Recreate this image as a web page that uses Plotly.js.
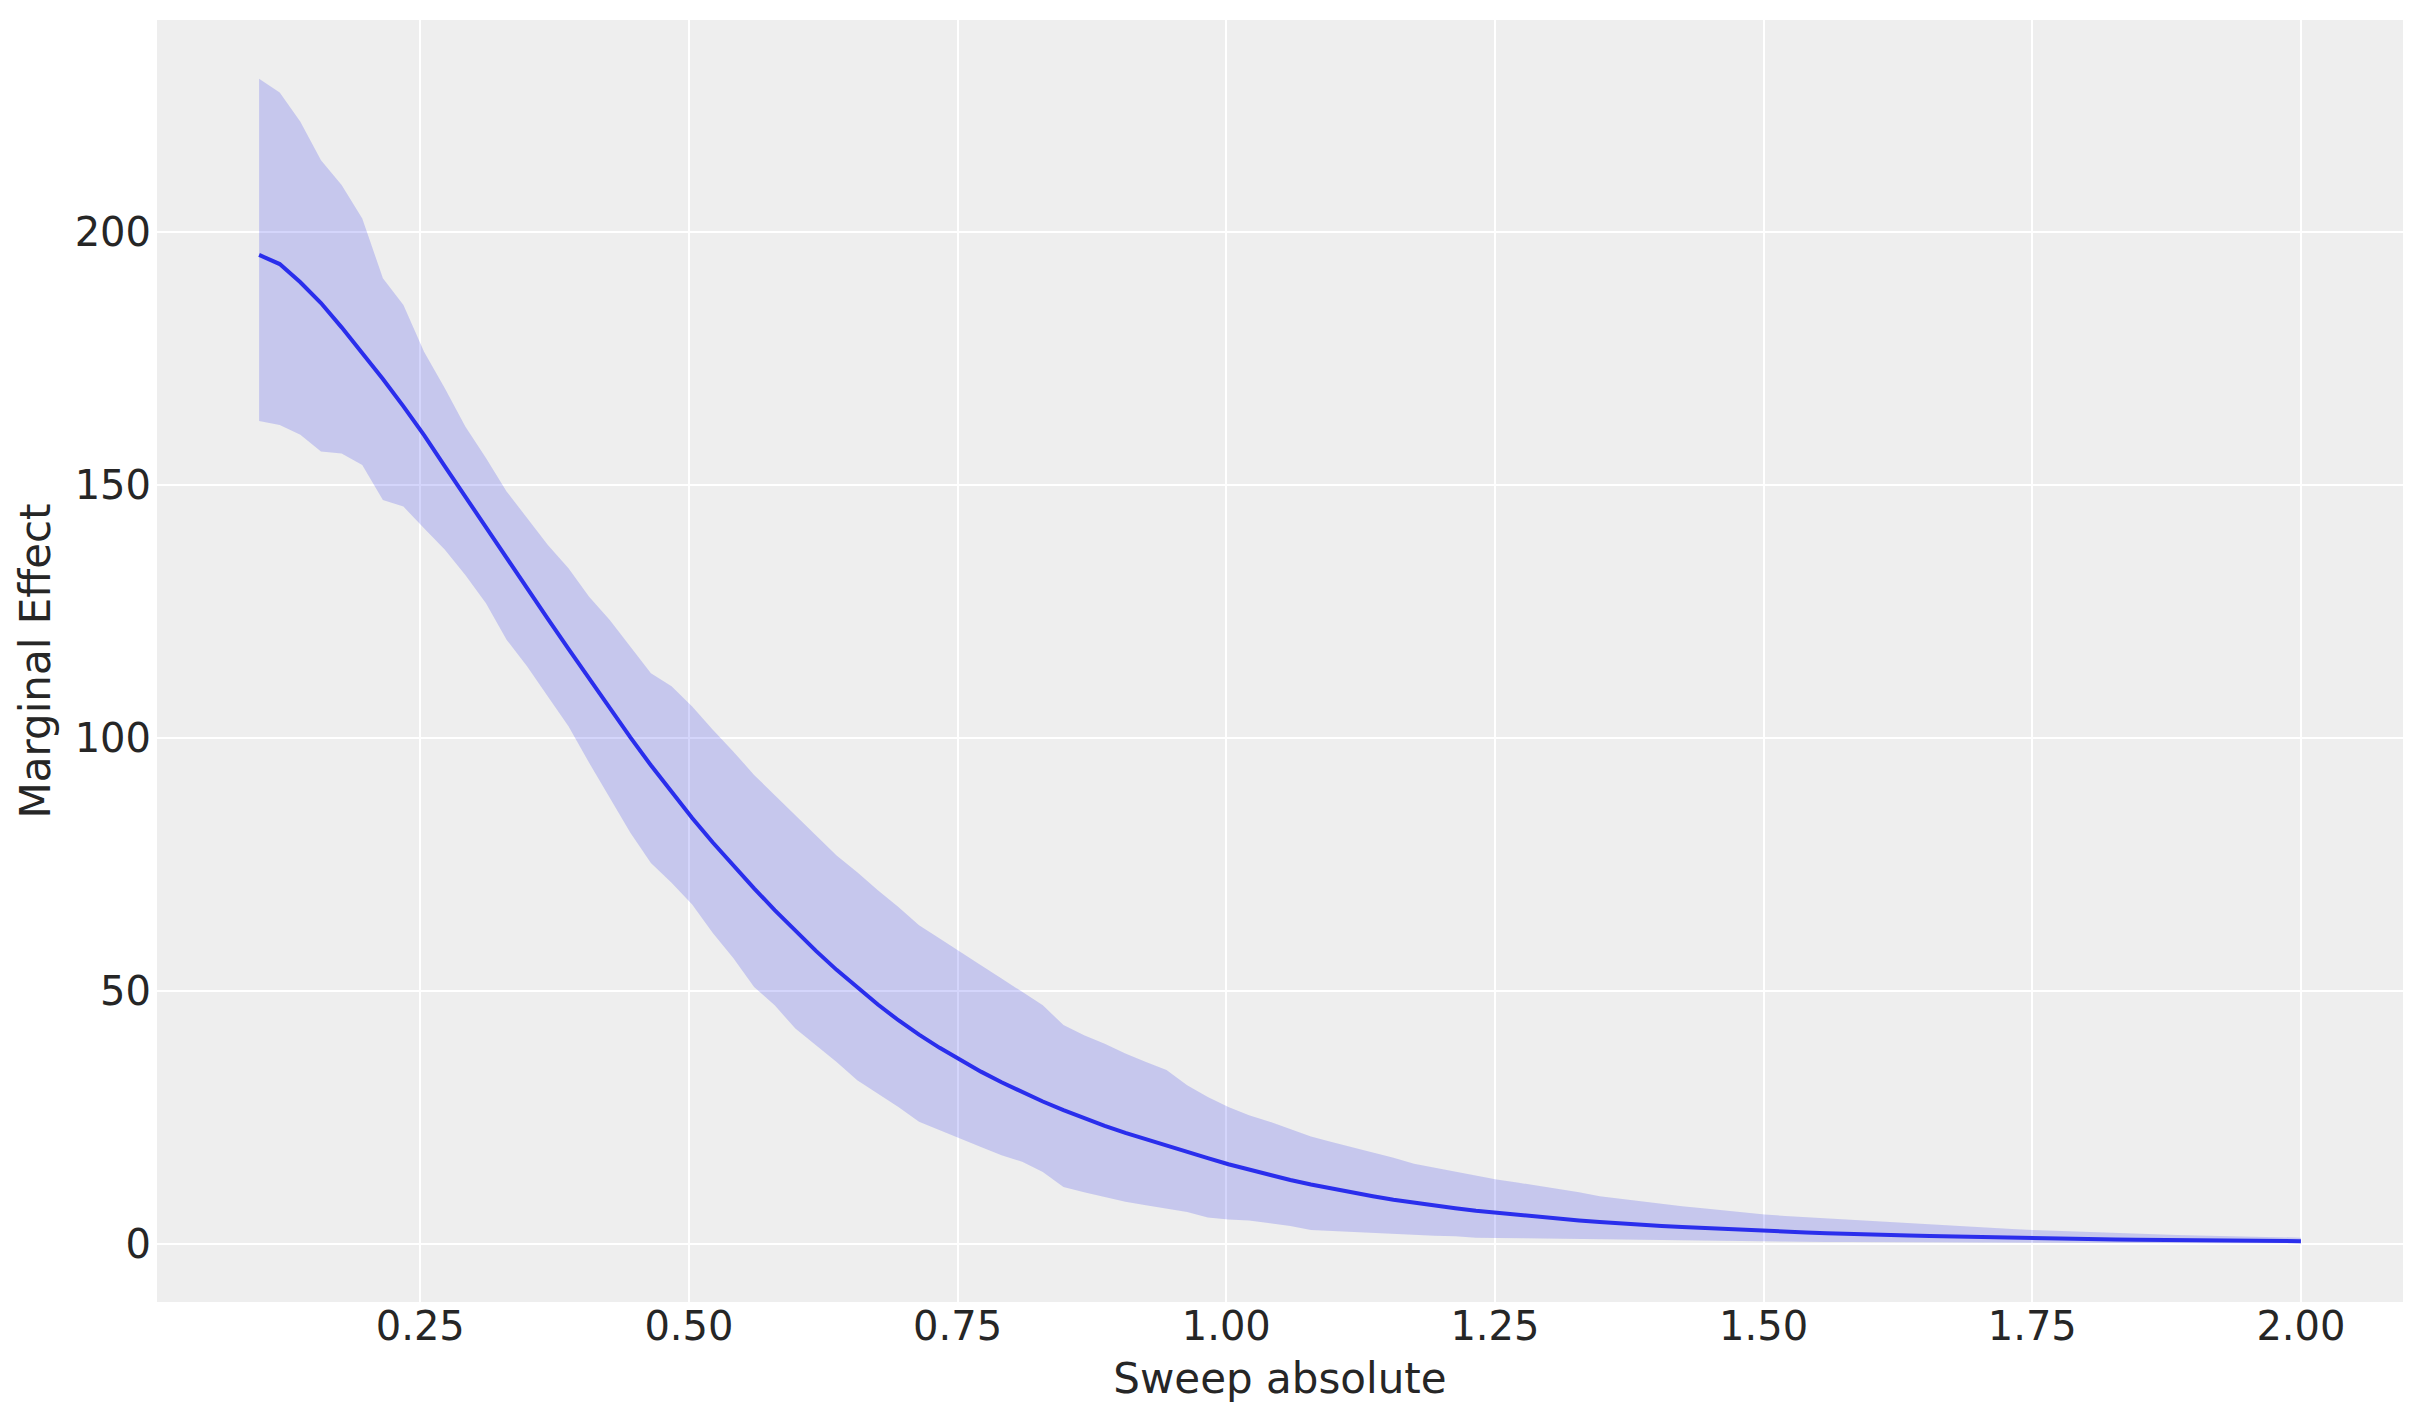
<!DOCTYPE html>
<html>
<head>
<meta charset="utf-8">
<script src="https://cdn.plot.ly/plotly-3.0.1.min.js"></script>
<style>
    html, body { margin: 0; padding: 0; background: #ffffff; }
    #plotly { width: 2423px; height: 1423px; }
</style>
</head>
<body>
<div id="plotly"></div>
<script>
// sweep grid (x)
const sweepAbsolute = [
    0.1000, 0.1192, 0.1384, 0.1576, 0.1768, 0.1960, 0.2152, 0.2343, 0.2535, 0.2727,
    0.2919, 0.3111, 0.3303, 0.3495, 0.3687, 0.3879, 0.4071, 0.4263, 0.4455, 0.4646,
    0.4838, 0.5030, 0.5222, 0.5414, 0.5606, 0.5798, 0.5990, 0.6182, 0.6374, 0.6566,
    0.6758, 0.6949, 0.7141, 0.7333, 0.7525, 0.7717, 0.7909, 0.8101, 0.8293, 0.8485,
    0.8677, 0.8869, 0.9061, 0.9253, 0.9444, 0.9636, 0.9828, 1.0020, 1.0212, 1.0404,
    1.0596, 1.0788, 1.0980, 1.1172, 1.1364, 1.1556, 1.1747, 1.1939, 1.2131, 1.2323,
    1.2515, 1.2707, 1.2899, 1.3091, 1.3283, 1.3475, 1.3667, 1.3859, 1.4051, 1.4242,
    1.4434, 1.4626, 1.4818, 1.5010, 1.5202, 1.5394, 1.5586, 1.5778, 1.5970, 1.6162,
    1.6354, 1.6545, 1.6737, 1.6929, 1.7121, 1.7313, 1.7505, 1.7697, 1.7889, 1.8081,
    1.8273, 1.8465, 1.8657, 1.8848, 1.9040, 1.9232, 1.9424, 1.9616, 1.9808, 2.0000,
];

// posterior mean of the marginal effect
const effectMean = [
    195.4, 193.6, 190.0, 185.9, 181.1, 176.1, 170.9, 165.5, 159.8, 153.7,
    147.6, 141.6, 135.6, 129.5, 123.5, 117.6, 111.7, 105.8, 100.1, 94.6,
    89.3, 84.2, 79.35, 74.75, 70.3, 66.0, 61.9, 57.95, 54.2, 50.7,
    47.35, 44.25, 41.4, 38.8, 36.4, 34.1, 32.0, 30.0, 28.2, 26.5,
    24.9, 23.4, 22.0, 20.7, 19.4, 18.2, 17.0, 15.8, 14.7, 13.7,
    12.7, 11.8, 11.0, 10.2, 9.5, 8.8, 8.2, 7.6, 7.1, 6.6,
    6.2, 5.8, 5.4, 5.0, 4.7, 4.4, 4.1, 3.8, 3.6, 3.4,
    3.2, 3.0, 2.8, 2.65, 2.5, 2.35, 2.2, 2.05, 1.95, 1.85,
    1.75, 1.65, 1.55, 1.45, 1.35, 1.25, 1.15, 1.1, 1.05, 1.0,
    0.95, 0.9, 0.85, 0.8, 0.76, 0.72, 0.68, 0.65, 0.62, 0.6,
];

// hdi band, upper edge
const hdiUpper = [
    230.2, 227.5, 221.7, 214.1, 209.2, 202.6, 190.8, 185.5, 176.3, 169.1,
    161.5, 155.3, 148.7, 143.4, 138.1, 133.5, 127.9, 123.3, 118.1, 112.8,
    110.2, 106.2, 101.6, 97.3, 92.7, 88.7, 84.7, 80.8, 76.8, 73.5,
    69.9, 66.6, 63.0, 60.4, 57.7, 55.1, 52.5, 49.8, 47.2, 43.3,
    41.3, 39.6, 37.7, 36.0, 34.4, 31.4, 29.1, 27.1, 25.5, 24.2,
    22.8, 21.3, 20.2, 19.2, 18.2, 17.1, 15.9, 15.1, 14.4, 13.5,
    12.8, 12.2, 11.6, 10.9, 10.3, 9.5, 9.0, 8.5, 7.9, 7.5,
    7.1, 6.7, 6.2, 5.9, 5.6, 5.35, 5.1, 4.85, 4.6, 4.35,
    4.1, 3.9, 3.65, 3.45, 3.2, 3.0, 2.8, 2.65, 2.5, 2.35,
    2.2, 2.1, 2.0, 1.85, 1.75, 1.65, 1.55, 1.45, 1.38, 1.3,
];

// hdi band, lower edge
const hdiLower = [
    162.6, 161.8, 159.9, 156.6, 156.2, 153.9, 147.0, 145.7, 141.4, 137.2,
    132.2, 126.6, 119.4, 114.1, 108.2, 102.3, 95.1, 88.2, 81.3, 75.3,
    71.4, 67.1, 61.5, 56.5, 50.8, 47.2, 42.6, 39.3, 36.0, 32.4,
    29.8, 27.1, 24.2, 22.5, 20.9, 19.2, 17.6, 16.3, 14.3, 11.3,
    10.3, 9.3, 8.4, 7.7, 7.1, 6.4, 5.3, 4.9, 4.7, 4.2,
    3.6, 2.8, 2.6, 2.5, 2.3, 2.1, 1.9, 1.7, 1.6, 1.3,
    1.25, 1.2, 1.1, 1.05, 1.0, 0.9, 0.85, 0.8, 0.73, 0.66,
    0.62, 0.58, 0.55, 0.52, 0.5, 0.47, 0.45, 0.43, 0.41, 0.39,
    0.37, 0.35, 0.34, 0.32, 0.31, 0.3, 0.29, 0.28, 0.27, 0.26,
    0.25, 0.24, 0.23, 0.22, 0.21, 0.2, 0.2, 0.19, 0.18, 0.18,
];

const xTickVals = [0.25, 0.5, 0.75, 1.0, 1.25, 1.5, 1.75, 2.0];
const xTickText = ['0.25', '0.50', '0.75', '1.00', '1.25', '1.50', '1.75', '2.00'];
const yTickVals = [0, 50, 100, 150, 200];

const lineColor = '#2a2eec';
const bandColor = 'rgba(42, 46, 236, 0.2)';
const textColor = '#262626';
const fontFamily = '"DejaVu Sans", "Liberation Sans", sans-serif';

const data = [
    {
        x: sweepAbsolute,
        y: hdiUpper,
        mode: 'lines',
        type: 'scatter',
        line: { width: 0, color: bandColor },
        hoverinfo: 'skip',
        showlegend: false,
    },
    {
        x: sweepAbsolute,
        y: hdiLower,
        mode: 'lines',
        type: 'scatter',
        fill: 'tonexty',
        fillcolor: bandColor,
        line: { width: 0, color: bandColor },
        hoverinfo: 'skip',
        showlegend: false,
    },
    {
        x: sweepAbsolute,
        y: effectMean,
        mode: 'lines',
        type: 'scatter',
        line: { width: 4, color: lineColor },
        showlegend: false,
    },
];

const layout = {
    width: 2423,
    height: 1423,
    margin: { l: 157, r: 20, t: 20, b: 121, pad: 0 },
    paper_bgcolor: '#ffffff',
    plot_bgcolor: '#eeeeee',
    font: { family: fontFamily, size: 40, color: textColor },
    showlegend: false,
    xaxis: {
        range: [0.005, 2.095],
        tickvals: xTickVals,
        ticktext: xTickText,
        ticks: '',
        ticklabelstandoff: -3,
        showgrid: true,
        gridcolor: '#ffffff',
        gridwidth: 2,
        zeroline: false,
        showline: false,
        title: { text: 'Sweep absolute', font: { size: 42, color: textColor }, standoff: 15 },
    },
    yaxis: {
        range: [-11.4, 241.8],
        tickvals: yTickVals,
        ticks: '',
        ticklabelstandoff: 5,
        showgrid: true,
        gridcolor: '#ffffff',
        gridwidth: 2,
        zeroline: false,
        showline: false,
        title: { text: 'Marginal Effect', font: { size: 42, color: textColor }, standoff: 10 },
    },
};

Plotly.newPlot('plotly', data, layout, { staticPlot: true, displayModeBar: false });
</script>
</body>
</html>
